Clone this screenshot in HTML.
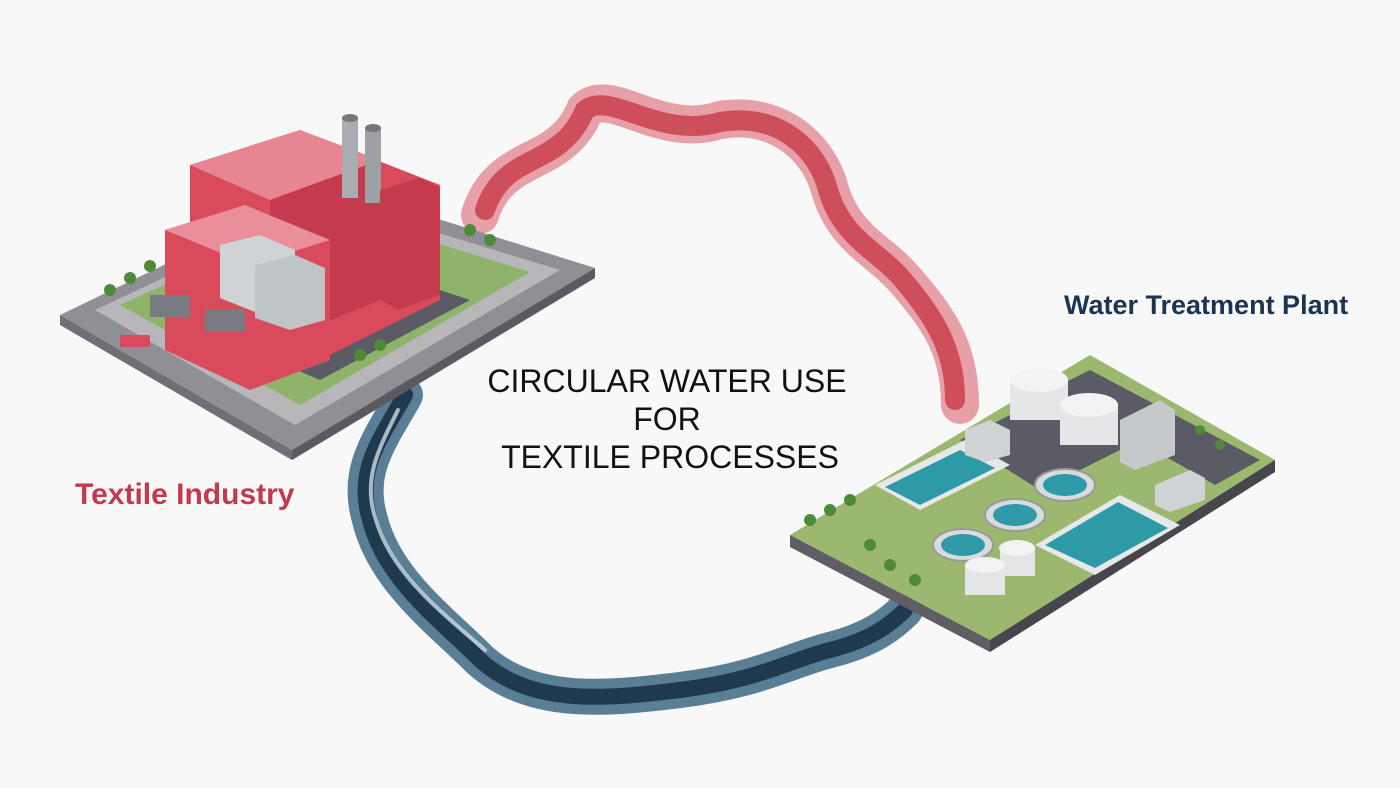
<!DOCTYPE html>
<html><head><meta charset="utf-8"><style>
html,body{margin:0;padding:0;background:#f8f8f8;}
svg{display:block}
</style></head><body>
<svg width="1400" height="788" viewBox="0 0 1400 788" xmlns="http://www.w3.org/2000/svg">
<rect width="1400" height="788" fill="#f8f8f8"/>
<!-- red stream -->
<g fill="none" stroke-linecap="round">
<path d="M480,215 C500,150 560,170 585,110 C610,85 660,140 720,120 C780,110 820,150 830,190 C845,240 880,250 905,280 C940,320 960,350 960,405" stroke="#e7a0a8" stroke-width="38"/>
<path d="M485,210 C505,150 560,170 585,110 C610,90 660,140 720,122 C780,112 818,150 828,190 C843,240 878,250 903,280 C935,318 955,350 955,400" stroke="#c9404f" stroke-width="20" opacity="0.85"/>
</g>
<!-- blue stream -->
<g fill="none" stroke-linecap="round">
<path d="M405,395 C380,440 355,470 370,520 C385,580 440,620 480,660 C530,705 600,700 680,690 C760,680 790,660 830,650 C870,640 890,625 905,610" stroke="#5a7f95" stroke-width="36"/>
<path d="M405,395 C380,440 355,470 370,520 C385,580 440,620 480,660 C530,705 600,700 680,690 C760,680 790,660 830,650 C870,640 890,625 905,610" stroke="#1f3a4e" stroke-width="16"/>
<path d="M398,410 C378,450 362,480 376,520 C392,575 445,615 485,650" stroke="#c9dbe4" stroke-width="4" opacity="0.8"/>
</g>
<!-- left platform -->
<polygon points="60,315 330,185 595,268 292,450" fill="#8f8f95"/>
<polygon points="60,315 292,450 292,460 60,325" fill="#6f6f75"/>
<polygon points="292,450 595,268 595,278 292,460" fill="#5a5a60"/>
<polygon points="95,310 330,200 560,270 295,425" fill="#b7b7ba"/>
<polygon points="120,305 330,210 530,272 300,405" fill="#8fb36a"/>
<polygon points="180,320 320,250 470,300 320,380" fill="#5b5b66"/>
<!-- factory -->
<polygon points="190,165 300,130 440,185 440,300 330,355 190,290" fill="#d94a5c"/>
<polygon points="190,165 300,130 380,160 270,200" fill="#e88592"/>
<polygon points="270,200 380,160 380,300 270,345" fill="#c43b4d"/>
<polygon points="165,230 245,205 330,240 330,360 250,390 165,350" fill="#d94a5c"/>
<polygon points="165,230 245,205 330,240 250,265" fill="#ea8e99"/>
<polygon points="220,245 260,235 295,250 295,300 255,312 220,298" fill="#cfd3d6"/>
<polygon points="255,265 295,255 325,268 325,320 290,330 255,318" fill="#bfc4c7"/>
<rect x="342" y="118" width="16" height="80" fill="#a9acb0"/>
<rect x="365" y="128" width="16" height="75" fill="#9da0a4"/>
<ellipse cx="350" cy="118" rx="8" ry="4" fill="#777"/>
<ellipse cx="373" cy="128" rx="8" ry="4" fill="#777"/>
<polygon points="380,190 420,178 440,188 440,295 398,310 380,300" fill="#c43b4d"/>
<g fill="#7a7a82"><rect x="150" y="295" width="40" height="22"/><rect x="205" y="310" width="40" height="22"/><rect x="120" y="335" width="30" height="12" fill="#d94a5c"/></g>
<g fill="#4f8a3a"><circle cx="110" cy="290" r="6"/><circle cx="130" cy="278" r="6"/><circle cx="150" cy="266" r="6"/><circle cx="470" cy="230" r="6"/><circle cx="490" cy="240" r="6"/><circle cx="380" cy="345" r="6"/><circle cx="360" cy="355" r="6"/></g>
<!-- right platform -->
<polygon points="790,535 1090,355 1275,460 990,640" fill="#9cb86e"/>
<polygon points="790,535 990,640 990,652 790,547" fill="#5e5e64"/>
<polygon points="990,640 1275,460 1275,472 990,652" fill="#46464c"/>
<polygon points="1050,390 1090,370 1260,460 1215,485" fill="#5b5b66"/>
<polygon points="960,440 1060,390 1140,440 1040,490" fill="#5b5b66"/>
<polygon points="875,485 965,440 1010,465 920,510" fill="#e6e8ea"/>
<polygon points="885,487 960,450 995,468 920,505" fill="#2e9aa8"/>
<polygon points="1035,545 1120,495 1180,525 1095,575" fill="#e6e8ea"/>
<polygon points="1045,545 1118,502 1168,528 1095,568" fill="#2e9aa8"/>
<g fill="#d9dcdf" stroke="#999" stroke-width="2">
<ellipse cx="1065" cy="485" rx="30" ry="16"/><ellipse cx="1015" cy="515" rx="30" ry="16"/><ellipse cx="963" cy="545" rx="30" ry="16"/></g>
<g fill="#2e9aa8"><ellipse cx="1065" cy="485" rx="22" ry="11"/><ellipse cx="1015" cy="515" rx="22" ry="11"/><ellipse cx="963" cy="545" rx="22" ry="11"/></g>
<g fill="#e3e5e7"><rect x="1010" y="380" width="58" height="40"/><rect x="1060" y="405" width="58" height="40"/><rect x="965" y="565" width="40" height="30"/><rect x="1000" y="548" width="35" height="28"/></g>
<g fill="#f2f3f4"><ellipse cx="1039" cy="380" rx="29" ry="12"/><ellipse cx="1089" cy="405" rx="29" ry="12"/><ellipse cx="985" cy="565" rx="20" ry="8"/><ellipse cx="1017" cy="548" rx="18" ry="8"/></g>
<polygon points="1120,420 1160,400 1175,410 1175,455 1135,470 1120,462" fill="#c6c9cc"/>
<polygon points="1155,485 1190,470 1205,478 1205,500 1170,512 1155,505" fill="#d0d3d6"/>
<polygon points="965,430 990,420 1010,430 1010,455 985,462 965,455" fill="#d0d3d6"/>
<g fill="#4f8a3a"><circle cx="810" cy="520" r="6"/><circle cx="830" cy="510" r="6"/><circle cx="850" cy="500" r="6"/><circle cx="870" cy="545" r="6"/><circle cx="890" cy="565" r="6"/><circle cx="915" cy="580" r="6"/><circle cx="1200" cy="430" r="5"/><circle cx="1220" cy="445" r="5"/></g>
<!-- text -->
<g font-family="Liberation Sans, sans-serif" font-size="32" fill="#111" text-anchor="middle">
<text x="667" y="392">CIRCULAR WATER USE</text>
<text x="667" y="430">FOR</text>
<text x="670" y="468">TEXTILE PROCESSES</text>
</g>
<text x="75" y="504" font-family="Liberation Sans, sans-serif" font-weight="bold" font-size="30" fill="#c23a4c">Textile Industry</text>
<text x="1064" y="314" font-family="Liberation Sans, sans-serif" font-weight="bold" font-size="27" fill="#1b3452">Water Treatment Plant</text>
</svg>
</body></html>
